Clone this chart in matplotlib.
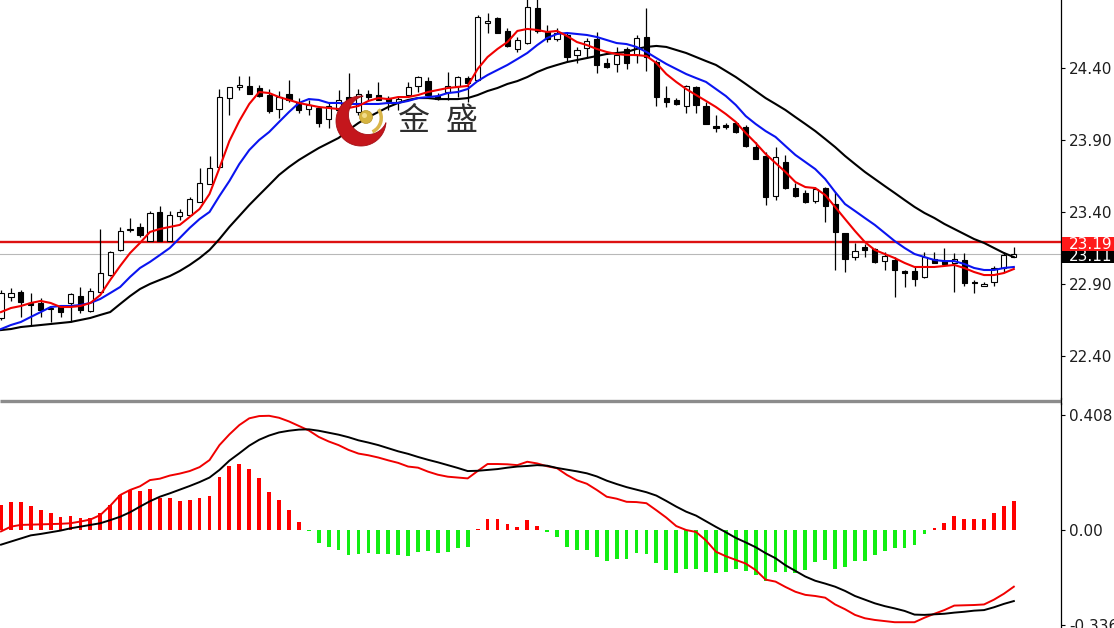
import numpy as np
import matplotlib
matplotlib.use('Agg')
import matplotlib.pyplot as plt
import matplotlib.patches as mpatches
import matplotlib.transforms as mtransforms

# ---- candles ----
opens = [22.664, 22.810, 22.844, 22.768, 22.768, 22.726, 22.740, 22.768, 22.816, 22.712,
         22.844, 22.962, 23.136, 23.275, 23.296, 23.198, 23.400, 23.198, 23.372, 23.379,
         23.469, 23.594, 23.712, 24.191, 24.268, 24.275, 24.261, 24.212, 24.115, 24.219,
         24.157, 24.115, 24.122, 24.046, 24.108, 24.198, 24.094, 24.219, 24.212, 24.191,
         24.164, 24.212, 24.275, 24.309, 24.205, 24.233, 24.275, 24.330, 24.316, 24.712,
         24.747, 24.657, 24.532, 24.573, 24.816, 24.650, 24.601, 24.629, 24.490, 24.539,
         24.601, 24.434, 24.428, 24.532, 24.490, 24.615, 24.441, 24.191, 24.178, 24.136,
         24.268, 24.136, 23.997, 24.004, 24.018, 23.990, 23.851, 23.789, 23.511, 23.747,
         23.566, 23.532, 23.476, 23.566, 23.455, 23.254, 23.087, 23.157, 23.143, 23.059,
         23.066, 22.990, 22.990, 22.949, 23.073, 23.059, 23.046, 23.066, 22.914, 22.886,
         22.914, 23.011, 23.087]
highs = [22.858, 22.872, 22.858, 22.837, 22.803, 22.740, 22.754, 22.837, 22.879, 22.872,
         23.282, 23.129, 23.296, 23.358, 23.323, 23.407, 23.441, 23.407, 23.421, 23.504,
         23.705, 23.789, 24.254, 24.268, 24.344, 24.344, 24.282, 24.254, 24.240, 24.316,
         24.191, 24.178, 24.136, 24.164, 24.247, 24.365, 24.254, 24.247, 24.303, 24.205,
         24.198, 24.303, 24.344, 24.337, 24.226, 24.372, 24.344, 24.344, 24.768, 24.782,
         24.754, 24.678, 24.615, 24.880, 24.880, 24.698, 24.678, 24.643, 24.546, 24.608,
         24.650, 24.469, 24.546, 24.546, 24.629, 24.816, 24.455, 24.275, 24.191, 24.282,
         24.275, 24.164, 24.073, 24.018, 24.025, 24.004, 23.886, 23.817, 23.851, 23.796,
         23.601, 23.553, 23.573, 23.573, 23.539, 23.254, 23.185, 23.178, 23.150, 23.122,
         23.087, 22.997, 23.018, 23.122, 23.122, 23.150, 23.115, 23.115, 22.928, 22.914,
         23.025, 23.122, 23.157]
lows = [22.650, 22.782, 22.671, 22.615, 22.671, 22.636, 22.671, 22.636, 22.698, 22.705,
        22.837, 22.955, 23.129, 23.261, 23.226, 23.198, 23.198, 23.198, 23.344, 23.379,
        23.469, 23.594, 23.712, 24.073, 24.247, 24.219, 24.198, 24.087, 24.053, 24.164,
        24.087, 24.073, 23.990, 23.983, 23.983, 24.136, 24.073, 24.178, 24.178, 24.108,
        24.108, 24.198, 24.233, 24.198, 24.178, 24.178, 24.198, 24.164, 24.309, 24.643,
        24.643, 24.546, 24.511, 24.566, 24.643, 24.580, 24.587, 24.448, 24.434, 24.469,
        24.365, 24.400, 24.372, 24.393, 24.434, 24.379, 24.136, 24.129, 24.143, 24.087,
        24.087, 24.011, 23.955, 23.976, 23.948, 23.851, 23.768, 23.449, 23.483, 23.560,
        23.504, 23.462, 23.462, 23.330, 22.997, 22.983, 23.066, 23.087, 23.046, 22.997,
        22.810, 22.879, 22.886, 22.941, 23.046, 23.039, 22.844, 22.886, 22.837, 22.886,
        22.886, 22.983, 23.087]
closes = [22.837, 22.837, 22.775, 22.754, 22.719, 22.733, 22.705, 22.830, 22.719, 22.851,
          22.976, 23.122, 23.268, 23.282, 23.240, 23.393, 23.198, 23.379, 23.400, 23.490,
          23.601, 23.705, 24.198, 24.268, 24.282, 24.219, 24.205, 24.101, 24.198, 24.178,
          24.108, 24.143, 24.018, 24.136, 24.178, 24.150, 24.219, 24.198, 24.178, 24.171,
          24.184, 24.268, 24.337, 24.212, 24.184, 24.275, 24.337, 24.296, 24.754, 24.726,
          24.643, 24.553, 24.594, 24.823, 24.657, 24.601, 24.643, 24.476, 24.525, 24.587,
          24.421, 24.407, 24.490, 24.434, 24.608, 24.476, 24.198, 24.164, 24.150, 24.275,
          24.143, 24.011, 23.983, 23.990, 23.955, 23.858, 23.768, 23.504, 23.782, 23.566,
          23.511, 23.469, 23.560, 23.441, 23.261, 23.073, 23.129, 23.136, 23.053, 23.094,
          22.997, 22.976, 22.935, 23.087, 23.046, 23.039, 23.073, 22.907, 22.907, 22.900,
          23.011, 23.101, 23.110]

# ---- moving averages ----
ma_fast = [22.705, 22.733, 22.747, 22.768, 22.782, 22.768, 22.740, 22.740, 22.747, 22.768,
           22.823, 22.928, 23.025, 23.115, 23.185, 23.261, 23.282, 23.296, 23.310, 23.365,
           23.421, 23.525, 23.705, 23.893, 24.032, 24.150, 24.233, 24.226, 24.198, 24.178,
           24.157, 24.143, 24.129, 24.122, 24.115, 24.122, 24.136, 24.171, 24.191, 24.184,
           24.198, 24.198, 24.212, 24.233, 24.247, 24.261, 24.268, 24.275, 24.393, 24.476,
           24.532, 24.580, 24.657, 24.671, 24.664, 24.650, 24.657, 24.622, 24.580, 24.559,
           24.532, 24.511, 24.497, 24.490, 24.490, 24.483, 24.434, 24.358, 24.303, 24.254,
           24.212, 24.171, 24.129, 24.080, 24.025, 23.948, 23.879, 23.803, 23.740, 23.678,
           23.608, 23.573, 23.566, 23.518, 23.435, 23.351, 23.268, 23.191, 23.136, 23.108,
           23.080, 23.046, 23.018, 23.018, 23.018, 23.025, 23.032, 23.011, 22.983, 22.962,
           22.962, 22.976, 23.004]
ma_mid = [22.587, 22.615, 22.636, 22.671, 22.705, 22.740, 22.747, 22.747, 22.754, 22.768,
          22.796, 22.837, 22.879, 22.949, 23.011, 23.053, 23.101, 23.150, 23.219, 23.289,
          23.351, 23.400, 23.511, 23.615, 23.733, 23.830, 23.900, 23.955, 24.025, 24.094,
          24.157, 24.184, 24.178, 24.157, 24.157, 24.150, 24.150, 24.150, 24.150, 24.157,
          24.157, 24.171, 24.191, 24.198, 24.205, 24.226, 24.233, 24.254, 24.309, 24.351,
          24.386, 24.421, 24.462, 24.504, 24.559, 24.608, 24.636, 24.643, 24.636, 24.629,
          24.615, 24.594, 24.573, 24.566, 24.546, 24.511, 24.469, 24.428, 24.393, 24.358,
          24.330, 24.303, 24.254, 24.205, 24.143, 24.066, 24.011, 23.962, 23.921, 23.858,
          23.796, 23.747, 23.698, 23.629, 23.539, 23.455, 23.407, 23.358, 23.310, 23.254,
          23.198, 23.150, 23.108, 23.087, 23.066, 23.059, 23.059, 23.039, 23.011, 22.997,
          22.997, 23.011, 23.018]
ma_slow = [22.580, 22.587, 22.601, 22.608, 22.615, 22.622, 22.629, 22.636, 22.650, 22.664,
           22.685, 22.705, 22.761, 22.816, 22.865, 22.900, 22.928, 22.955, 22.990, 23.032,
           23.080, 23.136, 23.212, 23.296, 23.372, 23.448, 23.518, 23.587, 23.657, 23.712,
           23.761, 23.803, 23.844, 23.879, 23.914, 23.969, 24.018, 24.059, 24.094, 24.129,
           24.157, 24.178, 24.191, 24.191, 24.184, 24.184, 24.184, 24.191, 24.212, 24.240,
           24.261, 24.289, 24.309, 24.337, 24.372, 24.400, 24.421, 24.441, 24.455, 24.469,
           24.483, 24.497, 24.504, 24.511, 24.532, 24.546, 24.553, 24.546, 24.525, 24.504,
           24.476, 24.448, 24.421, 24.379, 24.337, 24.289, 24.240, 24.191, 24.150, 24.108,
           24.059, 24.011, 23.962, 23.907, 23.851, 23.789, 23.733, 23.678, 23.629, 23.580,
           23.532, 23.483, 23.435, 23.393, 23.358, 23.317, 23.282, 23.247, 23.212, 23.185,
           23.150, 23.115, 23.087]

# ---- MACD panel ----
macd_line = [-0.005, 0.012, 0.018, 0.019, 0.020, 0.021, 0.022, 0.024, 0.030, 0.037,
             0.053, 0.086, 0.124, 0.142, 0.155, 0.177, 0.182, 0.193, 0.200, 0.209,
             0.223, 0.248, 0.301, 0.339, 0.372, 0.396, 0.404, 0.405, 0.398, 0.385,
             0.369, 0.353, 0.330, 0.314, 0.301, 0.284, 0.271, 0.265, 0.257, 0.247,
             0.238, 0.225, 0.221, 0.207, 0.196, 0.189, 0.186, 0.183, 0.209, 0.234,
             0.234, 0.233, 0.230, 0.242, 0.236, 0.226, 0.219, 0.195, 0.176, 0.164,
             0.142, 0.118, 0.111, 0.100, 0.099, 0.095, 0.070, 0.044, 0.014, 0.000,
             -0.007, -0.037, -0.077, -0.093, -0.106, -0.119, -0.142, -0.176, -0.183, -0.202,
             -0.219, -0.230, -0.234, -0.240, -0.264, -0.281, -0.301, -0.313, -0.319, -0.323,
             -0.327, -0.327, -0.327, -0.311, -0.297, -0.284, -0.268, -0.267, -0.266, -0.264,
             -0.247, -0.226, -0.201]
signal_line = [-0.052, -0.041, -0.030, -0.019, -0.014, -0.008, -0.002, 0.006, 0.012, 0.018,
               0.024, 0.035, 0.047, 0.063, 0.083, 0.102, 0.118, 0.130, 0.143, 0.156,
               0.170, 0.186, 0.213, 0.246, 0.272, 0.299, 0.320, 0.335, 0.346, 0.352,
               0.356, 0.357, 0.352, 0.345, 0.338, 0.329, 0.318, 0.310, 0.301, 0.290,
               0.279, 0.270, 0.259, 0.249, 0.240, 0.230, 0.220, 0.209, 0.210, 0.213,
               0.216, 0.221, 0.225, 0.227, 0.230, 0.228, 0.220, 0.214, 0.208, 0.201,
               0.190, 0.175, 0.163, 0.152, 0.143, 0.134, 0.122, 0.103, 0.083, 0.065,
               0.051, 0.031, 0.011, -0.008, -0.028, -0.044, -0.061, -0.082, -0.100, -0.125,
               -0.145, -0.165, -0.180, -0.190, -0.201, -0.216, -0.234, -0.247, -0.260, -0.270,
               -0.278, -0.287, -0.300, -0.301, -0.299, -0.297, -0.293, -0.290, -0.286, -0.284,
               -0.274, -0.262, -0.252]
macd_hist = [0.089, 0.100, 0.098, 0.086, 0.071, 0.059, 0.047, 0.050, 0.041, 0.041,
             0.059, 0.089, 0.124, 0.142, 0.138, 0.144, 0.115, 0.115, 0.103, 0.105,
             0.112, 0.122, 0.189, 0.228, 0.234, 0.215, 0.183, 0.134, 0.105, 0.071,
             0.030, -0.004, -0.045, -0.059, -0.071, -0.089, -0.086, -0.083, -0.085, -0.086,
             -0.089, -0.091, -0.079, -0.074, -0.083, -0.079, -0.065, -0.061, 0.004, 0.039,
             0.039, 0.020, 0.012, 0.037, 0.015, -0.006, -0.024, -0.059, -0.071, -0.071,
             -0.097, -0.109, -0.103, -0.104, -0.083, -0.085, -0.118, -0.142, -0.154, -0.139,
             -0.139, -0.150, -0.151, -0.148, -0.138, -0.144, -0.160, -0.180, -0.150, -0.150,
             -0.154, -0.142, -0.115, -0.106, -0.138, -0.132, -0.109, -0.109, -0.089, -0.074,
             -0.063, -0.065, -0.053, -0.015, 0.008, 0.026, 0.050, 0.038, 0.038, 0.038,
             0.059, 0.085, 0.103]

price_ticks = [22.40, 22.90, 23.40, 23.90, 24.40]
top_tick = 24.90
macd_ticks = [0.408, 0.00, -0.336]
macd_tick_labels = ['0.408', '0.00', '-0.336']
alert_level = 23.19
bid_level = 23.11
logo_text = ['金', '盛']

# ---- layout in pixels ----
W, H = 1114, 628
AXIS_X = 1061
MAIN_H = 399
SUB_H = 225
PX_PER_PRICE = 144.0

fig = plt.figure(figsize=(W / 100, H / 100), dpi=100)
fig.patch.set_facecolor('white')

price_ax = fig.add_axes([0, 1 - MAIN_H / H, AXIS_X / W, MAIN_H / H])
macd_ax = fig.add_axes([0, 0, AXIS_X / W, SUB_H / H])

o = np.array(opens)
hi = np.array(highs)
lo = np.array(lows)
c = np.array(closes)
x = np.arange(len(o))
xlim = (-0.1, 106.75)

# candles
price_ax.vlines(x, lo, hi, color='black', lw=0.9, zorder=2)
body = np.maximum(np.abs(c - o), 0.003)
body_colors = ['white' if cc >= oo else 'black' for oo, cc in zip(o, c)]
price_ax.bar(x, body, bottom=np.minimum(o, c), width=0.52, color=body_colors,
             edgecolor='black', linewidth=0.8, zorder=3)

# moving averages
price_ax.plot(x, ma_slow, color='black', lw=1.5, zorder=4)
price_ax.plot(x, ma_mid, color='#0a14f0', lw=1.5, zorder=4)
price_ax.plot(x, ma_fast, color='#f00000', lw=1.5, zorder=4)

price_ax.axhline(alert_level, color='#dd1111', lw=1.7, zorder=1)
price_ax.axhline(bid_level, color='#b8b8b8', lw=0.8, zorder=1)

price_ax.set_xlim(*xlim)
price_ax.set_ylim(24.872 - MAIN_H / PX_PER_PRICE, 24.872)
for s in ['left', 'top', 'bottom']:
    price_ax.spines[s].set_visible(False)
price_ax.spines['right'].set_linewidth(0.9)
price_ax.set_xticks([])
price_ax.yaxis.tick_right()
price_ax.set_yticks(price_ticks)
price_ax.set_yticklabels([f'{v:.2f}' for v in price_ticks])
price_ax.tick_params(axis='y', length=3, width=0.8, pad=3, labelsize=11, labelcolor='#1e1e1e')
price_ax.annotate(f'{top_tick:.2f}', xy=(1, top_tick), xycoords=('axes fraction', 'data'),
                  xytext=(6, 0), textcoords='offset points', ha='left', va='center',
                  fontsize=11, color='#1e1e1e', annotation_clip=False)

# price labels on the axis
trans = mtransforms.blended_transform_factory(price_ax.transAxes, price_ax.transData)
box_w = 53 / AXIS_X
bid_c = bid_level - 2.7 / PX_PER_PRICE
price_ax.add_patch(mpatches.Rectangle((1 + 1 / AXIS_X, bid_c - 6.5 / PX_PER_PRICE), box_w,
                                      13 / PX_PER_PRICE, transform=trans, clip_on=False,
                                      fc='black', ec='none', zorder=5))
price_ax.text(1 + 8 / AXIS_X, bid_c, f'{bid_level:.2f}', transform=trans, color='white',
              fontsize=11, ha='left', va='center', clip_on=False, zorder=6)
alert_c = alert_level - 2 / PX_PER_PRICE
price_ax.add_patch(mpatches.Rectangle((1 + 1 / AXIS_X, alert_c - 7 / PX_PER_PRICE), box_w,
                                      14 / PX_PER_PRICE, transform=trans, clip_on=False,
                                      fc='#ff1a1a', ec='none', zorder=7))
price_ax.text(1 + 8 / AXIS_X, alert_c, f'{alert_level:.2f}', transform=trans, color='white',
              fontsize=11, ha='left', va='center', clip_on=False, zorder=8)

# MACD
hist_colors = ['#ff0000' if v >= 0 else '#12ee12' for v in macd_hist]
macd_ax.bar(x, macd_hist, width=0.38, color=hist_colors, zorder=2)
macd_ax.plot(x, macd_line, color='#f00000', lw=1.4, zorder=3)
macd_ax.plot(x, signal_line, color='black', lw=1.4, zorder=3)
macd_ax.set_xlim(*xlim)
macd_ax.set_ylim(-98 / 282, 127 / 282)
for s in ['left', 'top', 'bottom']:
    macd_ax.spines[s].set_visible(False)
macd_ax.spines['right'].set_linewidth(0.9)
macd_ax.set_xticks([])
macd_ax.yaxis.tick_right()
macd_ax.set_yticks(macd_ticks)
macd_ax.set_yticklabels(macd_tick_labels)
macd_ax.tick_params(axis='y', length=3, width=0.8, pad=3, labelsize=11, labelcolor='#1e1e1e')

# overlay in pixel space: separator and logo
ov = fig.add_axes([0, 0, 1, 1], zorder=10)
ov.set_xlim(0, W)
ov.set_ylim(H, 0)
ov.axis('off')
ov.patch.set_alpha(0)
ov.plot([0, AXIS_X], [401, 401], color='#8c8c8c', lw=2.4, solid_capstyle='butt')
ov.plot([AXIS_X, AXIS_X], [398, 404], color='black', lw=0.9)


def crescent(c_out, r_out, c_in, r_in, n=600):
    c_out = np.asarray(c_out, float)
    c_in = np.asarray(c_in, float)
    base = np.arctan2(c_in[1] - c_out[1], c_in[0] - c_out[0])
    s = np.linspace(0, 2 * np.pi, n)
    outer = c_out + r_out * np.column_stack([np.cos(base + s), np.sin(base + s)])
    outer = outer[np.hypot(*(outer - c_in).T) > r_in]
    t = np.linspace(np.pi, -np.pi, n)
    inner = c_in + r_in * np.column_stack([np.cos(base + np.pi + t), np.sin(base + np.pi + t)])
    inner = inner[np.hypot(*(inner - c_out).T) < r_out]
    return np.vstack([outer, inner])


ov.add_patch(mpatches.Polygon(crescent((361, 121), 25, (368, 115), 19.5),
                              closed=True, fc='#c4161c', ec='#a50f15', lw=0.6))
ov.add_patch(mpatches.Wedge((366, 118), 17, -35, 65, width=3.5, fc='#d9b64a', ec='none'))
ov.add_patch(mpatches.Circle((366, 117), 6.5, fc='#d6b440', ec='#b8962a', lw=0.5))
ov.add_patch(mpatches.Circle((364.5, 115.5), 2.5, fc='#f1dc8a', ec='none'))
ov.text(414, 121, logo_text[0], fontsize=23, family=['Noto Sans CJK SC'],
        color='#2e2e2e', ha='center', va='center')
ov.text(462, 121, logo_text[1], fontsize=23, family=['Noto Sans CJK SC'],
        color='#2e2e2e', ha='center', va='center')

fig.savefig('out.png', dpi=100, facecolor='white')
